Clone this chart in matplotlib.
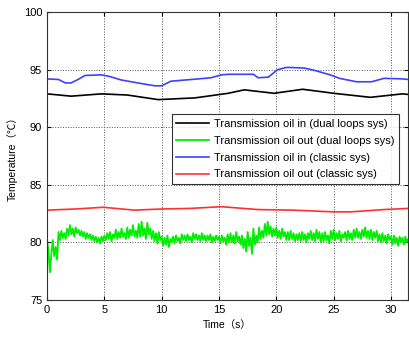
import numpy as np
import matplotlib
matplotlib.use("Agg")
import matplotlib.pyplot as plt

plt.rcParams['font.family'] = ['Liberation Sans', 'Noto Sans CJK SC', 'DejaVu Sans']

# transmission oil in, dual loops sys (black)
dual_in_t = [0, 2.1, 4.75, 7, 9.7, 12.9, 15.8, 17.2, 19.8, 22.3, 25, 28.2, 31, 31.5]
dual_in_v = [92.9, 92.7, 92.9, 92.8, 92.4, 92.55, 92.95, 93.25, 92.95, 93.3, 92.95, 92.6, 92.9, 92.85]

# transmission oil out, dual loops sys (green, noisy), one row per second, sampled every 0.125 s
dual_out_v = [
    80.3, 79.2, 77.4, 79.0, 80.2, 78.8, 79.6, 78.5,
    80.9, 80.2, 81.0, 80.4, 80.8, 80.3, 81.2, 80.6,
    81.5, 80.7, 81.2, 80.5, 81.3, 80.8, 81.1, 80.6,
    81.0, 80.5, 80.9, 80.3, 80.8, 80.4, 80.7, 80.2,
    80.6, 80.1, 80.5, 80.0, 80.4, 79.9, 80.5, 80.1,
    80.6, 80.2, 80.8, 80.3, 80.9, 80.1, 80.7, 80.4,
    81.1, 80.3, 80.9, 80.4, 81.2, 80.5, 80.8, 80.3,
    81.3, 80.4, 81.1, 80.6, 81.5, 80.5, 81.0, 80.4,
    81.6, 80.5, 81.8, 80.6, 81.2, 80.3, 81.7, 80.7,
    81.2, 80.3, 81.0, 80.1, 80.8, 79.9, 80.9, 80.2,
    80.5, 79.7, 80.4, 79.8, 80.6, 79.6, 80.3, 80.0,
    80.5, 79.9, 80.6, 80.1, 80.4, 79.9, 80.7, 80.2,
    80.6, 80.1, 80.7, 80.2, 80.5, 80.0, 80.8, 80.3,
    80.7, 80.2, 80.6, 80.1, 80.8, 80.2, 80.6, 80.1,
    80.6, 80.2, 80.7, 80.0, 80.5, 80.1, 80.6, 80.2,
    80.5, 79.9, 80.6, 80.1, 80.4, 79.8, 80.7, 80.0,
    80.8, 80.0, 80.6, 79.9, 80.9, 80.1, 80.5, 79.8,
    80.6, 79.5, 80.3, 79.2, 80.9, 79.7, 80.4, 79.0,
    81.2, 79.8, 80.6, 80.0, 81.3, 80.3, 81.0, 80.4,
    81.6, 80.6, 81.8, 80.7, 81.4, 80.5, 81.2, 80.6,
    81.3, 80.4, 81.0, 80.3, 81.2, 80.5, 80.9, 80.2,
    80.9, 80.2, 81.0, 80.3, 80.8, 80.1, 80.7, 80.2,
    80.8, 80.1, 80.9, 80.2, 80.7, 80.0, 80.8, 80.3,
    81.0, 80.2, 80.8, 80.1, 81.1, 80.3, 80.9, 80.0,
    80.8, 80.1, 80.9, 80.2, 80.6, 79.9, 81.0, 80.3,
    81.1, 80.2, 80.8, 80.3, 81.0, 80.1, 80.7, 80.4,
    80.9, 80.2, 81.0, 80.3, 80.8, 80.2, 81.1, 80.4,
    81.2, 80.4, 80.9, 80.3, 81.1, 80.5, 81.3, 80.4,
    81.0, 80.3, 81.1, 80.2, 80.9, 80.4, 81.0, 80.1,
    80.7, 80.0, 80.8, 80.1, 80.6, 79.9, 80.7, 80.2,
    80.5, 79.8, 80.6, 79.9, 80.4, 79.7, 80.5, 80.0,
    80.4, 79.8, 80.5, 80.0, 80.3]
dual_out_t = np.arange(len(dual_out_v)) * 0.125

# transmission oil in, classic sys (blue)
classic_in_t = [0, 1.0, 1.6, 2.1, 2.8, 3.3, 4.75, 5.5, 6.5, 8.2, 9.4, 10.0, 10.8, 13.2, 14.3, 15.2, 15.8,
                18.0, 18.4, 19.3, 20.1, 20.9, 22.4, 23.3, 24.7, 25.5, 27.0, 28.3, 29.4, 31.0, 31.5]
classic_in_v = [94.2, 94.15, 93.85, 93.85, 94.2, 94.5, 94.55, 94.4, 94.1, 93.8, 93.6, 93.6, 94.0, 94.2, 94.3, 94.55, 94.6,
                94.6, 94.3, 94.35, 95.0, 95.2, 95.15, 94.95, 94.55, 94.25, 93.95, 93.95, 94.25, 94.2, 94.15]

# transmission oil out, classic sys (red)
classic_out_t = [0, 2.5, 4.9, 7.6, 10, 12.5, 15.2, 18.4, 21.4, 25, 26.5, 29.4, 31.5]
classic_out_v = [82.8, 82.9, 83.05, 82.8, 82.9, 82.95, 83.1, 82.85, 82.8, 82.65, 82.65, 82.85, 82.95]

labels = ['Transmission oil in (dual loops sys)', 'Transmission oil out (dual loops sys)',
          'Transmission oil in (classic sys)', 'Transmission oil out (classic sys)']

fig = plt.figure(figsize=(4.09, 3.37), dpi=100)
ax = fig.add_axes([0.115, 0.11, 0.883, 0.854])

ax.plot(dual_in_t, dual_in_v, color='black', linewidth=1.2, label=labels[0])
ax.plot(dual_out_t, dual_out_v, color='#00ee00', linewidth=1.3, label=labels[1])
ax.plot(classic_in_t, classic_in_v, color='#4040ff', linewidth=1.2, label=labels[2])
ax.plot(classic_out_t, classic_out_v, color='#ff3030', linewidth=1.2, label=labels[3])

ax.set_xlim(0, 31.5)
ax.set_ylim(75, 100)
ax.set_xticks([0, 5, 10, 15, 20, 25, 30])
ax.set_yticks([75, 80, 85, 90, 95, 100])
ax.grid(True, linestyle=':', color='#555555', linewidth=0.7)
ax.tick_params(direction='in', labelsize=8, length=3, top=True, right=True)
for s in ax.spines.values():
    s.set_linewidth(0.8)
    s.set_color('#333333')

ax.set_xlabel('Time（s）', fontsize=7.5)
ax.set_ylabel('Temperature（℃）', fontsize=7.5)

leg = ax.legend(loc='upper left', bbox_to_anchor=(0.346, 0.645), fontsize=8, frameon=True,
                fancybox=False, handlelength=2.9, labelspacing=0.62, borderpad=0.4, handletextpad=0.45,
                borderaxespad=0)
leg.get_frame().set_edgecolor('black')
leg.get_frame().set_linewidth(0.8)

plt.savefig('out.png', dpi=100)
